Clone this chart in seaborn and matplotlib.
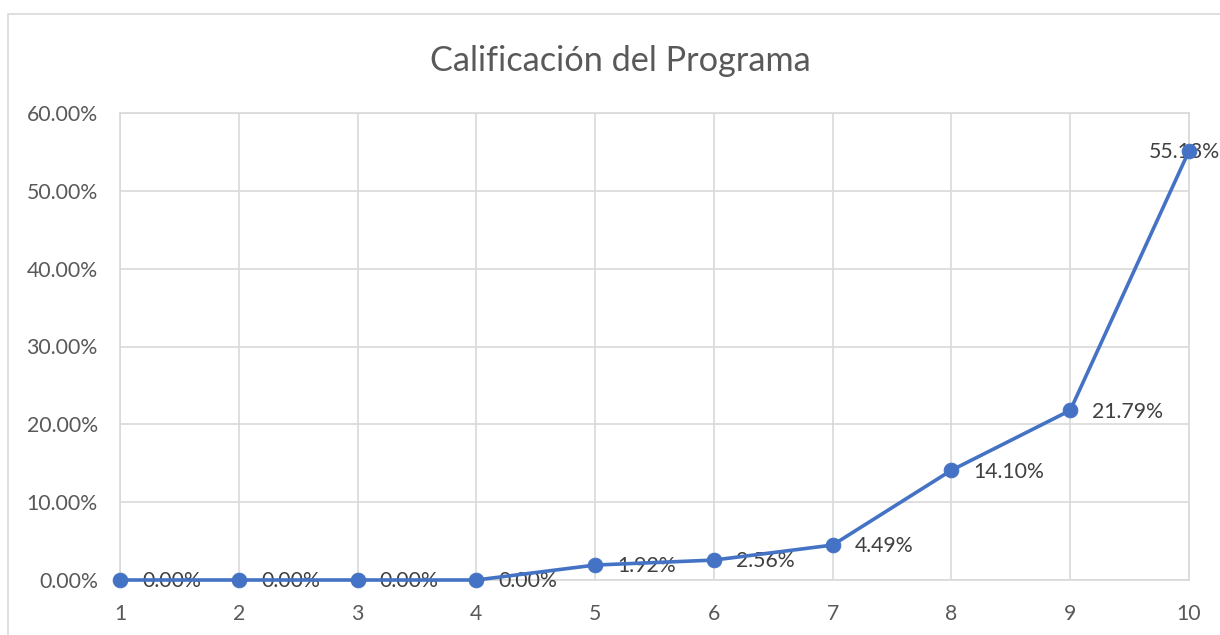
import matplotlib
matplotlib.use("Agg")
from matplotlib import pyplot as plt
from matplotlib.patches import Rectangle
from matplotlib.ticker import FuncFormatter
import seaborn as sns
import pandas as pd

# data
calificacion = [1, 2, 3, 4, 5, 6, 7, 8, 9, 10]
porcentaje = [0.0, 0.0, 0.0, 0.0, 1.92, 2.56, 4.49, 14.10, 21.79, 55.13]
y_ticks = [0, 10, 20, 30, 40, 50, 60]

df = pd.DataFrame({'calificacion': calificacion, 'porcentaje': porcentaje})

sns.set_style('white')
plt.rcParams['font.family'] = ['Lato', 'DejaVu Sans']

fig = plt.figure(figsize=(12.2, 6.35), dpi=100)
ax = fig.add_axes([120 / 1220, 1 - 580 / 635, (1189 - 120) / 1220, (580 - 113) / 635])

# outer chart frame (cut at right and bottom like the reference)
fig.patches.append(Rectangle((8 / 1220, -0.1), 1.2, 1 - 14 / 635 + 0.1, transform=fig.transFigure,
                             fill=False, edgecolor='#d9d9d9', linewidth=1.2))

line_color = '#4472c4'
sns.lineplot(data=df, x='calificacion', y='porcentaje', ax=ax, color=line_color, linewidth=2.6,
             marker='o', markersize=10.5, markeredgecolor=line_color, markerfacecolor=line_color,
             clip_on=False, zorder=5)

for i, (x, y) in enumerate(zip(calificacion, porcentaje)):
    if i == len(calificacion) - 1:
        # last label does not fit on the right, sits over the point
        ax.annotate(f'{y:.2f}%', (x, y), xytext=(-3, -1), textcoords='offset points',
                    ha='center', va='center', fontsize=15.3, color='#404040', zorder=4)
    else:
        ax.annotate(f'{y:.2f}%', (x, y), xytext=(16, -1), textcoords='offset points',
                    ha='left', va='center', fontsize=15.3, color='#404040', zorder=4)

ax.set_xlim(1, 10)
ax.set_ylim(0, 60)
ax.set_xticks(calificacion)
ax.set_yticks(y_ticks)
ax.yaxis.set_major_formatter(FuncFormatter(lambda v, p: f'{v:.2f}%'))
ax.grid(True, color='#d9d9d9', linewidth=1.2)
ax.set_axisbelow(True)
for side in ax.spines:
    ax.spines[side].set_color('#d9d9d9')
    ax.spines[side].set_linewidth(1.2)
ax.tick_params(axis='both', length=0, labelsize=15.3, colors='#595959')
ax.tick_params(axis='x', pad=17)
ax.tick_params(axis='y', pad=16)
ax.set_xlabel('')
ax.set_ylabel('')

fig.text(620 / 1220, 1 - 61 / 635, 'Calificación del Programa', ha='center', va='center',
         fontsize=24.7, color='#595959')

fig.savefig('out.png', dpi=100)
